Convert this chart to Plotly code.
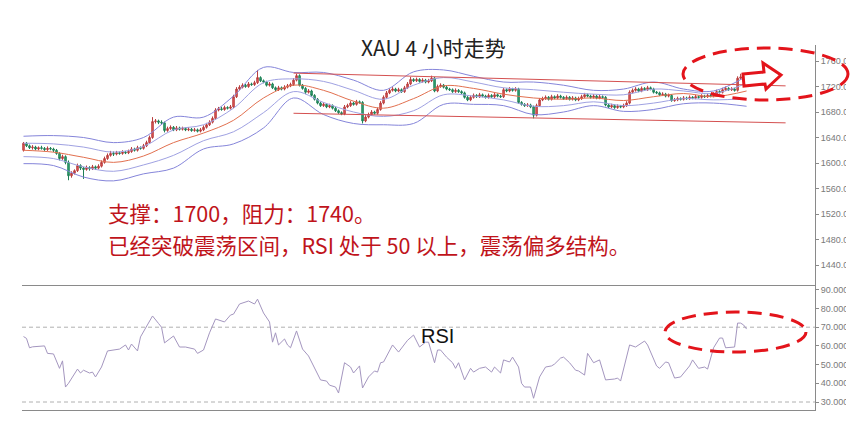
import plotly.graph_objects as go

# ---------------- data ----------------
opens = [
1620,1631,1627,1624,1625,1622,1624,1623,1621,1623,
1622,1620,1615,1607,1610,1601,1580,1584,1588,1596,
1592,1590,1593,1591,1594,1592,1595,1601,1607,1612,
1615,1614,1616,1615,1617,1616,1618,1622,1620,1624,
1623,1627,1632,1640,1665,1666,1664,1663,1651,1654,
1656,1652,1655,1653,1654,1652,1653,1651,1652,1650,
1652,1656,1660,1664,1670,1683,1685,1684,1687,1686,
1688,1704,1716,1719,1722,1720,1724,1723,1726,1734,
1729,1727,1722,1724,1718,1715,1718,1716,1719,1721,
1723,1730,1737,1722,1717,1711,1713,1706,1700,1694,
1690,1692,1688,1690,1686,1682,1679,1677,1688,1690,
1694,1692,1696,1695,1666,1672,1676,1680,1678,1684,
1694,1703,1710,1714,1716,1713,1715,1712,1718,1724,
1731,1729,1731,1728,1730,1727,1729,1733,1713,1720,
1722,1719,1716,1715,1712,1714,1712,1710,1703,1699,
1703,1706,1704,1707,1705,1703,1706,1704,1707,1705,
1704,1715,1713,1716,1714,1716,1695,1692,1690,1691,
1688,1675,1690,1699,1701,1703,1700,1704,1702,1705,
1703,1701,1703,1700,1702,1699,1701,1704,1707,1705,
1703,1705,1702,1704,1703,1691,1688,1690,1687,1689,
1688,1690,1694,1711,1714,1716,1713,1717,1715,1718,
1716,1711,1710,1707,1708,1705,1706,1698,1699,1701,
1700,1702,1701,1703,1702,1704,1703,1705,1704,1706,
1705,1708,1712,1711,1715,1717,1715,1716,1714,1733,
1735,1737]
highs = [
1633,1633,1629,1628,1627,1626,1627,1625,1626,1625,
1624,1622,1617,1613,1612,1604,1587,1590,1599,1598,
1594,1596,1595,1597,1596,1598,1604,1610,1615,1619,
1618,1619,1618,1620,1619,1621,1625,1624,1627,1626,
1630,1635,1643,1672,1669,1668,1667,1665,1657,1659,
1658,1658,1657,1657,1656,1656,1655,1655,1654,1655,
1659,1663,1667,1673,1686,1688,1688,1690,1689,1691,
1707,1719,1722,1725,1724,1727,1726,1729,1746,1736,
1731,1729,1727,1726,1720,1721,1720,1722,1724,1726,
1733,1740,1739,1724,1719,1716,1715,1708,1702,1696,
1695,1694,1693,1692,1688,1684,1681,1691,1693,1697,
1696,1699,1698,1697,1675,1679,1683,1682,1687,1697,
1706,1713,1717,1719,1718,1718,1717,1721,1727,1735,
1733,1734,1733,1733,1732,1732,1737,1735,1723,1725,
1724,1721,1718,1717,1717,1716,1714,1712,1705,1706,
1709,1708,1710,1709,1707,1709,1708,1710,1709,1707,
1718,1717,1719,1718,1719,1718,1697,1694,1694,1693,
1690,1693,1702,1704,1706,1705,1707,1706,1708,1707,
1705,1706,1705,1705,1704,1704,1707,1710,1709,1707,
1708,1707,1707,1706,1705,1693,1693,1692,1692,1691,
1693,1697,1714,1717,1719,1718,1720,1719,1721,1720,
1718,1713,1712,1711,1710,1709,1708,1702,1704,1703,
1705,1704,1706,1705,1707,1706,1708,1707,1709,1708,
1711,1715,1714,1718,1720,1719,1719,1718,1736,1740,
1739,1739]
lows = [
1618,1625,1622,1621,1620,1620,1621,1619,1619,1620,
1617,1613,1604,1605,1598,1573,1577,1582,1586,1589,
1575,1588,1588,1589,1589,1590,1593,1599,1605,1610,
1611,1612,1613,1613,1614,1614,1616,1618,1618,1621,
1621,1625,1630,1638,1662,1661,1660,1648,1649,1652,
1650,1650,1651,1651,1650,1650,1649,1649,1648,1648,
1650,1654,1658,1662,1668,1681,1682,1682,1684,1684,
1686,1702,1714,1717,1718,1718,1721,1721,1724,1727,
1725,1720,1720,1716,1713,1713,1714,1714,1717,1719,
1721,1728,1720,1715,1708,1709,1704,1698,1692,1688,
1688,1686,1686,1684,1680,1677,1675,1675,1686,1688,
1690,1690,1693,1662,1664,1670,1674,1676,1676,1682,
1692,1701,1708,1712,1711,1711,1710,1710,1716,1722,
1727,1727,1726,1726,1725,1725,1727,1711,1711,1718,
1717,1714,1713,1710,1710,1710,1708,1701,1697,1697,
1701,1702,1702,1703,1701,1701,1702,1702,1703,1702,
1702,1711,1711,1712,1712,1693,1690,1688,1688,1686,
1670,1673,1688,1697,1699,1698,1698,1700,1700,1701,
1699,1699,1698,1698,1697,1697,1699,1702,1703,1701,
1701,1700,1700,1701,1689,1686,1686,1685,1685,1686,
1686,1688,1692,1709,1712,1711,1711,1713,1713,1714,
1709,1708,1705,1705,1703,1703,1696,1696,1697,1698,
1698,1699,1699,1700,1700,1701,1701,1702,1702,1703,
1703,1706,1709,1709,1713,1713,1713,1712,1712,1731,
1733,1731]
closes = [
1631,1627,1624,1625,1622,1624,1623,1621,1623,1622,
1620,1615,1607,1610,1601,1580,1584,1588,1596,1592,
1590,1593,1591,1594,1592,1595,1601,1607,1612,1615,
1614,1616,1615,1617,1616,1618,1622,1620,1624,1623,
1627,1632,1640,1665,1666,1664,1663,1651,1654,1656,
1652,1655,1653,1654,1652,1653,1651,1652,1650,1652,
1656,1660,1664,1670,1683,1685,1684,1687,1686,1688,
1704,1716,1719,1722,1720,1724,1723,1726,1734,1729,
1727,1722,1724,1718,1715,1718,1716,1719,1721,1723,
1730,1737,1722,1717,1711,1713,1706,1700,1694,1690,
1692,1688,1690,1686,1682,1679,1677,1688,1690,1694,
1692,1696,1695,1666,1672,1676,1680,1678,1684,1694,
1703,1710,1714,1716,1713,1715,1712,1718,1724,1731,
1729,1731,1728,1730,1727,1729,1733,1713,1720,1722,
1719,1716,1715,1712,1714,1712,1710,1703,1699,1703,
1706,1704,1707,1705,1703,1706,1704,1707,1705,1704,
1715,1713,1716,1714,1716,1695,1692,1690,1691,1688,
1675,1690,1699,1701,1703,1700,1704,1702,1705,1703,
1701,1703,1700,1702,1699,1701,1704,1707,1705,1703,
1705,1702,1704,1703,1691,1688,1690,1687,1689,1688,
1690,1694,1711,1714,1716,1713,1717,1715,1718,1716,
1711,1710,1707,1708,1705,1706,1698,1699,1701,1700,
1702,1701,1703,1702,1704,1703,1705,1704,1706,1705,
1708,1712,1711,1715,1717,1715,1716,1714,1733,1735,
1737,1733]
bars = list(range(len(closes)))

# Bollinger-style bands (read at sample bars)
bb_idx = [0,10,20,30,40,50,60,70,80,90,100,110,120,130,140,150,160,170,180,190,200,210,220,230,241]
bb_mid = [1620,1617,1609,1601,1611,1632,1647,1667,1702,1722,1714,1697,1686,1701,1721,1717,1708,1702,1700,1702,1698,1704,1709,1704,1713]
bb_up2 = [1642,1643,1640,1632,1640,1672,1672,1705,1750,1742,1742,1730,1714,1743,1746,1736,1727,1727,1722,1714,1716,1727,1716,1713,1736]
bb_lo2 = [1599,1596,1578,1572,1583,1592,1622,1630,1655,1702,1676,1662,1660,1662,1692,1692,1690,1676,1680,1690,1681,1684,1693,1694,1689]
bb_up1 = [1631,1630,1625,1617,1626,1652,1660,1686,1726,1732,1728,1714,1700,1722,1734,1727,1718,1715,1711,1708,1707,1716,1713,1709,1725]
bb_lo1 = [1610,1607,1594,1587,1597,1612,1635,1649,1679,1712,1695,1680,1673,1682,1707,1705,1699,1689,1690,1696,1690,1694,1701,1699,1701]

# range (channel) lines
trend_idx = [90, 254]
trend_upper = [1741, 1721]
trend_lower = [1678, 1663]

# RSI readings
rsi_idx = [0,1,2,3,7,8,10,12,13,14,15,18,19,20,22,23,24,26,28,30,32,34,35,36,38,39,43,45,46,47,
           50,52,54,57,58,60,62,64,67,69,70,72,75,77,78,80,82,83,84,85,87,88,89,91,93,95,98,99,101,102,
           104,105,107,109,110,112,113,115,117,118,119,120,123,125,128,130,132,134,135,137,138,139,141,143,144,145,147,149,150,152,
           154,156,157,159,160,162,163,165,166,167,169,170,172,174,176,177,179,180,182,184,185,187,188,190,192,194,197,198,199,202,
           204,207,208,211,212,214,215,217,219,220,222,223,225,227,228,230,232,233,234,237,238,239,240,241]
rsi_val = [65,64,59,59.5,60,56,55.7,48,52,38,40,47.6,45.5,47,45.5,46,43.4,48.7,57.3,57.8,58.3,60.5,57.8,61,57.3,64.8,76,72,70,61.6,
           65.3,59.4,59.4,58.3,56,57.8,67,74.4,72.8,76.5,77,82.4,84,82.4,85,77.6,72.8,62,67,60.5,63.7,60.5,59,68,58.3,54.6,44.4,41.8,41.2,39,
           38,34.8,51,48.7,45.5,49.3,37.5,43.4,46.6,46,51,51.4,60.5,56.7,63,65.8,59.4,62,62,51,57.8,57.8,54,51,48,51,41.8,48,46,48,
           48.7,46,48.7,45.5,52.5,51.4,54,48.7,40,38,38,32,43.4,48.7,49.3,50.3,53.5,54,51,47,46.6,44.4,56,51,52.5,41.8,42.3,42.8,41.2,60.5,
           59.4,62.6,60.5,49.3,48,51.4,51,42.8,43.4,45.5,49.3,52.5,48,48.7,47.6,59,64.2,64.2,59,59.4,72.2,72.2,71.2,69]

price_ticks = [1440, 1480, 1520, 1560, 1600, 1640, 1680, 1720, 1760]
rsi_ticks = [30, 40, 50, 60, 70, 80, 90]

title_text = "XAU 4 小时走势"
note_line1 = "支撑：1700，阻力：1740。"
note_line2 = "已经突破震荡区间，RSI 处于 50 以上，震荡偏多结构。"

# ---------------- figure ----------------
W, H = 861, 424
def px(x):
    return x / W
def py(y):
    return 1 - y / H

fig = go.Figure()

band_blue = "#8585da"
band_blue2 = "#9fa1e2"
fig.add_trace(go.Scatter(x=bb_idx, y=bb_up2, mode="lines", line=dict(color=band_blue, width=1, shape="spline"), hoverinfo="skip"))
fig.add_trace(go.Scatter(x=bb_idx, y=bb_lo2, mode="lines", line=dict(color=band_blue, width=1, shape="spline"), hoverinfo="skip"))
fig.add_trace(go.Scatter(x=bb_idx, y=bb_up1, mode="lines", line=dict(color=band_blue2, width=1, shape="spline"), hoverinfo="skip"))
fig.add_trace(go.Scatter(x=bb_idx, y=bb_lo1, mode="lines", line=dict(color=band_blue2, width=1, shape="spline"), hoverinfo="skip"))
fig.add_trace(go.Scatter(x=bb_idx, y=bb_mid, mode="lines", line=dict(color="#e2704f", width=1, shape="spline"), hoverinfo="skip"))

fig.add_trace(go.Scatter(x=trend_idx, y=trend_upper, mode="lines", line=dict(color="#d45050", width=1), hoverinfo="skip"))
fig.add_trace(go.Scatter(x=trend_idx, y=trend_lower, mode="lines", line=dict(color="#d45050", width=1), hoverinfo="skip"))

fig.add_trace(go.Candlestick(
    x=bars, open=opens, high=highs, low=lows, close=closes,
    increasing=dict(line=dict(color="#b83c3c", width=1), fillcolor="#e65c5c"),
    decreasing=dict(line=dict(color="#1f7f55", width=1), fillcolor="#34b07c"),
    whiskerwidth=0, hoverinfo="skip"))

fig.add_trace(go.Scatter(x=rsi_idx, y=rsi_val, mode="lines", xaxis="x2", yaxis="y2",
                         line=dict(color="#a496bf", width=1), hoverinfo="skip"))

xr = [-0.5, 263.8]
xdom = [px(22), px(815)]
tickfont = dict(family="Liberation Sans, Arial", size=9, color="#7a7a7a")

fig.update_layout(
    width=W, height=H,
    margin=dict(l=0, r=0, t=0, b=0),
    paper_bgcolor="white", plot_bgcolor="white",
    showlegend=False,
    xaxis=dict(domain=xdom, range=xr, visible=False, rangeslider=dict(visible=False), anchor="y"),
    yaxis=dict(domain=[py(286), py(45)], range=[1407.1, 1785.1], side="right", anchor="x",
               showline=True, linecolor="#8a8a8a", linewidth=1, ticks="outside", ticklen=3,
               tickcolor="#8a8a8a", tickvals=price_ticks, tickformat=".2f", tickfont=tickfont,
               showgrid=False, zeroline=False),
    xaxis2=dict(domain=xdom, range=xr, anchor="y2", showline=True, mirror=True, linecolor="#8a8a8a",
                showticklabels=False, showgrid=False, zeroline=False, ticks=""),
    yaxis2=dict(domain=[py(410), py(286)], range=[25.72, 92.03], side="right", anchor="x2",
                showline=True, linecolor="#8a8a8a", linewidth=1, ticks="outside", ticklen=3,
                tickcolor="#8a8a8a", tickvals=rsi_ticks, tickformat=".4f", tickfont=tickfont,
                showgrid=False, zeroline=False),
)

shapes = []
# RSI reference levels
for lvl in (70, 30):
    shapes.append(dict(type="line", xref="x2 domain", x0=0, x1=1, yref="y2", y0=lvl, y1=lvl,
                       line=dict(color="#b0b0b0", width=1, dash="4px,3px"), layer="below"))
# clip of the right tick labels (reference image is cropped there)
shapes.append(dict(type="rect", xref="paper", yref="paper", x0=px(846), x1=1.0, y0=0, y1=1,
                   fillcolor="white", line=dict(width=0), layer="above"))
# dashed ellipses
red = "#e3141b"
shapes.append(dict(type="circle", xref="paper", yref="paper", x0=px(683), x1=px(848), y0=py(100), y1=py(48),
                   line=dict(color=red, width=3, dash="14px,8px"), layer="above"))
shapes.append(dict(type="circle", xref="paper", yref="paper", x0=px(665), x1=px(806), y0=py(352), y1=py(312),
                   line=dict(color=red, width=3, dash="14px,8px"), layer="above"))
# block arrow
pts = [(743, 74), (764, 72), (763, 63), (781, 75), (766, 89), (765, 84), (744, 86)]
path = "M " + " L ".join(f"{px(x):.5f},{py(y):.5f}" for x, y in pts) + " Z"
shapes.append(dict(type="path", xref="paper", yref="paper", path=path, fillcolor="white",
                   line=dict(color=red, width=3), layer="above"))
fig.update_layout(shapes=shapes)

cjk = "Noto Sans CJK SC"
fig.add_annotation(x=px(434), y=py(47), xref="paper", yref="paper", text=title_text, showarrow=False,
                   font=dict(family=cjk, size=21, color="#222222"), xanchor="center", yanchor="middle")
fig.add_annotation(x=px(106), y=py(212), xref="paper", yref="paper", text=note_line1,
                   showarrow=False, align="left",
                   font=dict(family=cjk, size=21.5, color="#c0141b"), xanchor="left", yanchor="middle")
fig.add_annotation(x=px(106), y=py(244), xref="paper", yref="paper", text=note_line2,
                   showarrow=False, align="left",
                   font=dict(family=cjk, size=21.5, color="#c0141b"), xanchor="left", yanchor="middle")
fig.add_annotation(x=px(437), y=py(336), xref="paper", yref="paper", text="RSI", showarrow=False,
                   font=dict(family="Liberation Sans, Arial", size=20, color="#111111"),
                   xanchor="center", yanchor="middle")

fig.write_html("out.html", config={"displayModeBar": False},
               post_script="document.body.style.margin='0px';")
